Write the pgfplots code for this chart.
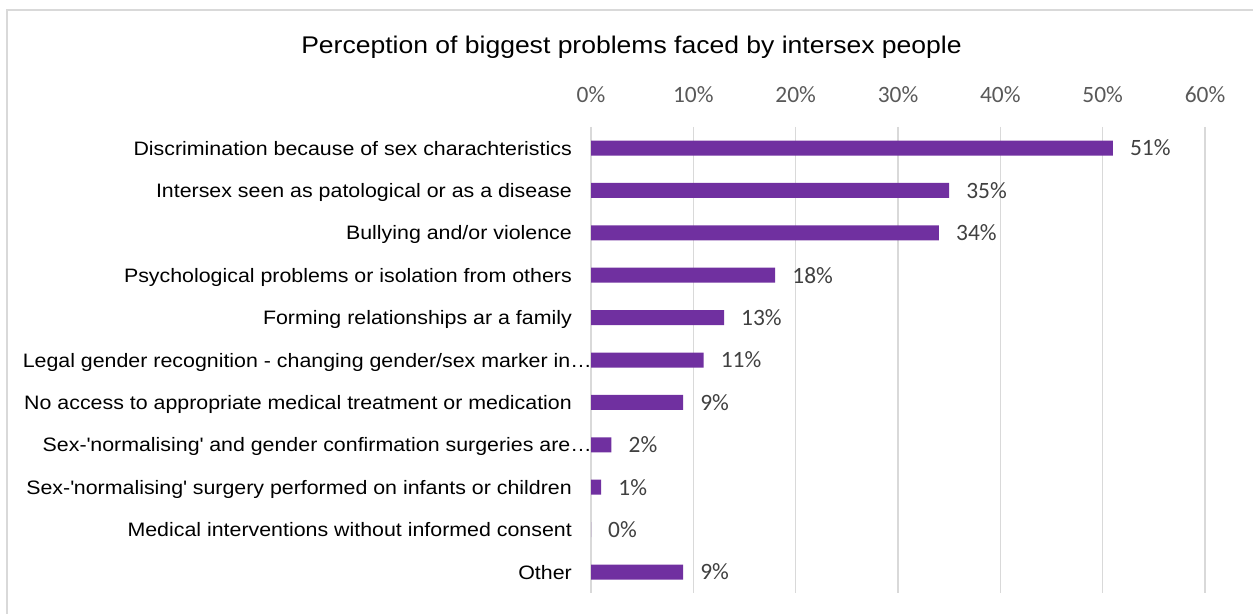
\documentclass[border=0pt]{standalone}
\usepackage{fontspec}
\setmainfont{Liberation Sans}[FakeStretch=1.1]
\newfontfamily\calib{Carlito}
\usepackage{pgfplots}
\pgfplotsset{compat=1.18}
\definecolor{barpurple}{HTML}{7030A0}
\definecolor{gridgray}{HTML}{D9D9D9}
\definecolor{ticktext}{HTML}{595959}
\definecolor{datatext}{HTML}{404040}
\begin{document}
\begin{tikzpicture}[x=1bp,y=1bp]
\path[use as bounding box] (0,0) rectangle (1253,-614);
\draw[gridgray, line width=1.5bp] (7,-640) -- (7,-10) -- (1280,-10);
\node[anchor=base, inner sep=0pt, font=\fontsize{24.2}{28}\selectfont] at (631.5,-53.3) {Perception of biggest problems faced by intersex people};
\begin{axis}[
  at={(591bp,-126.8bp)}, anchor=north west,
  scale only axis, width=614bp, height=466.4bp,
  xbar, bar width=15bp,
  xmin=0, xmax=60, ymin=-0.5, ymax=10.5,
  y dir=reverse,
  axis line style={draw=none},
  major tick length=0pt,
  xtick={0,10,20,30,40,50,60},
  xticklabels={0\%,10\%,20\%,30\%,40\%,50\%,60\%},
  xticklabel pos=upper,
  xticklabel style={anchor=base, inner sep=0pt, yshift=24.5bp, font=\calib\fontsize{23.5}{26}\selectfont, text=ticktext},
  xmajorgrids, grid style={gridgray, line width=1.5bp},
  ytick={0,1,2,3,4,5,6,7,8,9,10},
  yticklabels={
    Discrimination because of sex charachteristics,
    Intersex seen as patological or as a disease,
    Bullying and/or violence,
    Psychological problems or isolation from others,
    Forming relationships ar a family,
    Legal gender recognition - changing gender/sex marker in…\hspace*{-20bp},
    No access to appropriate medical treatment or medication,
    Sex-\textquotesingle normalising\textquotesingle\ and gender confirmation surgeries are…\hspace*{-20bp},
    Sex-\textquotesingle normalising\textquotesingle\ surgery performed on infants or children,
    Medical interventions without informed consent,
    Other},
  yticklabel style={anchor=east, inner sep=0pt, xshift=-19bp, font=\fontsize{19.5}{22}\selectfont, text=black, text height=14bp, text depth=0pt},
  /pgf/number format/assume math mode=true,
  nodes near coords={\pgfmathprintnumber[fixed,precision=0,assume math mode=true]{\pgfplotspointmeta}\%},
  nodes near coords style={anchor=west, inner sep=0pt, xshift=17bp, font=\calib\fontsize{23.5}{26}\selectfont, text=datatext},
  clip=false,
]
\addplot[fill=barpurple, draw=none] coordinates {
  (51,0) (35,1) (34,2) (18,3) (13,4) (11,5) (9,6) (2,7) (1,8) (0,9) (9,10)
};
\end{axis}
\end{tikzpicture}
\end{document}
